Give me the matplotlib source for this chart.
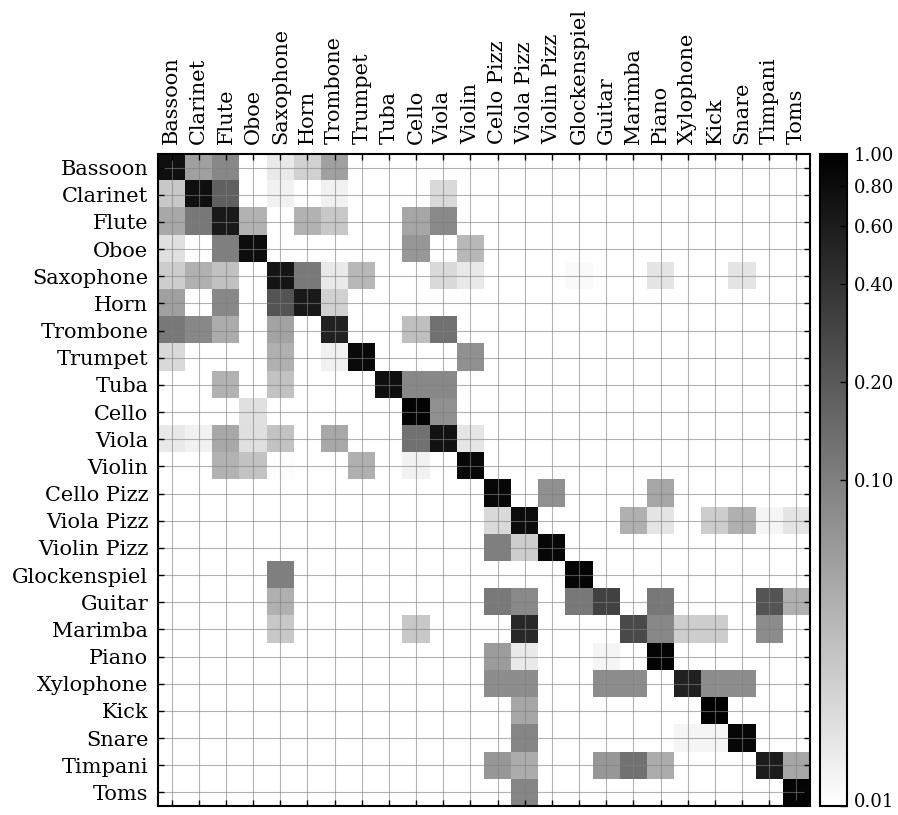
import numpy as np
import matplotlib
matplotlib.use('Agg')
import matplotlib.pyplot as plt
import matplotlib.transforms as mtransforms
from matplotlib.colors import LogNorm

plt.rcParams['font.family'] = 'DejaVu Serif'

instruments = ['Bassoon', 'Clarinet', 'Flute', 'Oboe', 'Saxophone', 'Horn',
               'Trombone', 'Trumpet', 'Tuba', 'Cello', 'Viola', 'Violin',
               'Cello Pizz', 'Viola Pizz', 'Violin Pizz', 'Glockenspiel',
               'Guitar', 'Marimba', 'Piano', 'Xylophone', 'Kick', 'Snare',
               'Timpani', 'Toms']

# confusion matrix rows (true class) x columns (predicted class)
confusion = [
    [0.75, 0.056, 0.086, 0, 0.015, 0.023, 0.056, 0, 0, 0, 0, 0, 0, 0, 0, 0, 0, 0, 0, 0, 0, 0, 0, 0],
    [0.027, 0.75, 0.176, 0, 0.013, 0, 0.013, 0, 0, 0, 0.02, 0, 0, 0, 0, 0, 0, 0, 0, 0, 0, 0, 0, 0],
    [0.048, 0.115, 0.62, 0.04, 0, 0.04, 0.027, 0, 0, 0.05, 0.085, 0, 0, 0, 0, 0, 0, 0, 0, 0, 0, 0, 0, 0],
    [0.0175, 0, 0.1, 0.78, 0, 0, 0, 0, 0, 0.065, 0, 0.036, 0, 0, 0, 0, 0, 0, 0, 0, 0, 0, 0, 0],
    [0.025, 0.042, 0.031, 0, 0.68, 0.11, 0.015, 0.036, 0, 0, 0.02, 0.015, 0, 0, 0, 0.011, 0, 0, 0.016, 0, 0, 0.016, 0, 0],
    [0.056, 0, 0.086, 0, 0.22, 0.62, 0.023, 0, 0, 0, 0, 0, 0, 0, 0, 0, 0, 0, 0, 0, 0, 0, 0, 0],
    [0.115, 0.086, 0.045, 0, 0.052, 0, 0.54, 0, 0, 0.032, 0.13, 0, 0, 0, 0, 0, 0, 0, 0, 0, 0, 0, 0, 0],
    [0.02, 0, 0, 0, 0.042, 0, 0.013, 0.83, 0, 0, 0, 0.074, 0, 0, 0, 0, 0, 0, 0, 0, 0, 0, 0, 0],
    [0, 0, 0.04, 0, 0.03, 0, 0, 0, 0.75, 0.086, 0.086, 0, 0, 0, 0, 0, 0, 0, 0, 0, 0, 0, 0, 0],
    [0, 0, 0, 0.0175, 0, 0, 0, 0, 0, 0.92, 0.074, 0, 0, 0, 0, 0, 0, 0, 0, 0, 0, 0, 0, 0],
    [0.015, 0.013, 0.048, 0.018, 0.03, 0, 0.048, 0, 0, 0.13, 0.7, 0.016, 0, 0, 0, 0, 0, 0, 0, 0, 0, 0, 0, 0],
    [0, 0, 0.04, 0.03, 0.0105, 0, 0, 0.042, 0, 0.013, 0, 0.85, 0, 0, 0, 0, 0, 0, 0, 0, 0, 0, 0, 0],
    [0, 0, 0, 0, 0, 0, 0, 0, 0, 0, 0, 0, 0.87, 0, 0.074, 0, 0, 0, 0.05, 0, 0, 0, 0, 0],
    [0, 0, 0, 0, 0, 0, 0, 0, 0, 0, 0, 0, 0.02, 0.8, 0, 0, 0, 0.042, 0.016, 0, 0.025, 0.042, 0.012, 0.016],
    [0, 0, 0, 0, 0, 0, 0, 0, 0, 0, 0, 0, 0.1, 0.025, 0.87, 0, 0, 0, 0, 0, 0, 0, 0, 0],
    [0, 0, 0, 0, 0.1, 0, 0, 0, 0, 0, 0, 0, 0, 0, 0, 0.9, 0, 0, 0, 0, 0, 0, 0, 0],
    [0, 0, 0, 0, 0.042, 0, 0, 0, 0, 0, 0, 0, 0.11, 0.085, 0, 0.115, 0.31, 0, 0.115, 0, 0, 0, 0.22, 0.042],
    [0, 0, 0, 0, 0.027, 0, 0, 0, 0, 0.027, 0, 0, 0, 0.48, 0, 0, 0, 0.26, 0.086, 0.025, 0.025, 0, 0.08, 0],
    [0, 0, 0, 0, 0, 0, 0, 0, 0, 0, 0, 0, 0.06, 0.015, 0, 0, 0.012, 0, 0.92, 0, 0, 0, 0, 0],
    [0, 0, 0, 0, 0, 0, 0, 0, 0, 0, 0, 0, 0.078, 0.078, 0, 0, 0.078, 0.078, 0, 0.54, 0.078, 0.078, 0, 0],
    [0, 0, 0, 0, 0, 0, 0, 0, 0, 0, 0, 0, 0, 0.05, 0, 0, 0, 0, 0, 0, 0.95, 0, 0, 0],
    [0, 0, 0, 0, 0, 0, 0, 0, 0, 0, 0, 0, 0, 0.09, 0, 0, 0, 0, 0, 0.012, 0.012, 0.87, 0, 0],
    [0, 0, 0, 0, 0, 0, 0, 0, 0, 0, 0, 0, 0.065, 0.045, 0, 0, 0.065, 0.13, 0.045, 0, 0, 0, 0.6, 0.05],
    [0, 0, 0, 0, 0, 0, 0, 0, 0, 0, 0, 0, 0, 0.09, 0, 0, 0, 0, 0, 0, 0, 0, 0, 0.9],
]
cbar_ticks = [0.01, 0.1, 0.2, 0.4, 0.6, 0.8, 1.0]

W, H = 898, 815
fig = plt.figure(figsize=(W / 100, H / 100), dpi=100)
ax = fig.add_axes([158 / W, 9 / H, 652 / W, 652 / H])
cax = fig.add_axes([820 / W, 9 / H, 27 / W, 652 / H])

cmap = plt.get_cmap('gray_r').copy()
cmap.set_bad('white')
cmap.set_under('white')
data = np.ma.masked_less_equal(np.array(confusion), 0)
im = ax.imshow(data, cmap=cmap, norm=LogNorm(vmin=0.01, vmax=1.0),
               interpolation='nearest', aspect='auto')

n = len(instruments)
ax.set_xticks(range(n))
ax.set_yticks(range(n))
ax.set_xticklabels(instruments, rotation=90, fontsize=15)
ax.set_yticklabels(instruments, fontsize=15)
ax.xaxis.tick_top()
ax.tick_params(direction='in', length=4, width=1, top=True, bottom=True,
               left=True, right=True, labeltop=True, labelbottom=False, pad=7)
ax.grid(True, color='gray', alpha=0.6, linewidth=0.8)
for s in ax.spines.values():
    s.set_linewidth(1.5)

cb = fig.colorbar(im, cax=cax, ticks=cbar_ticks)
cb.ax.minorticks_off()
cb.set_ticks(cbar_ticks)
cb.set_ticklabels(['%.2f' % t for t in cbar_ticks])
cb.ax.tick_params(direction='in', length=5, labelsize=13, width=1, pad=5)
cb.outline.set_linewidth(1.5)

# nudge the lowest colorbar label up so it stays inside the figure
fig.canvas.draw()
lab = cb.ax.get_yticklabels()[0]
lab.set_transform(lab.get_transform() +
                  mtransforms.ScaledTranslation(0, 4 / 72, fig.dpi_scale_trans))

plt.savefig('out.png', dpi=100)
